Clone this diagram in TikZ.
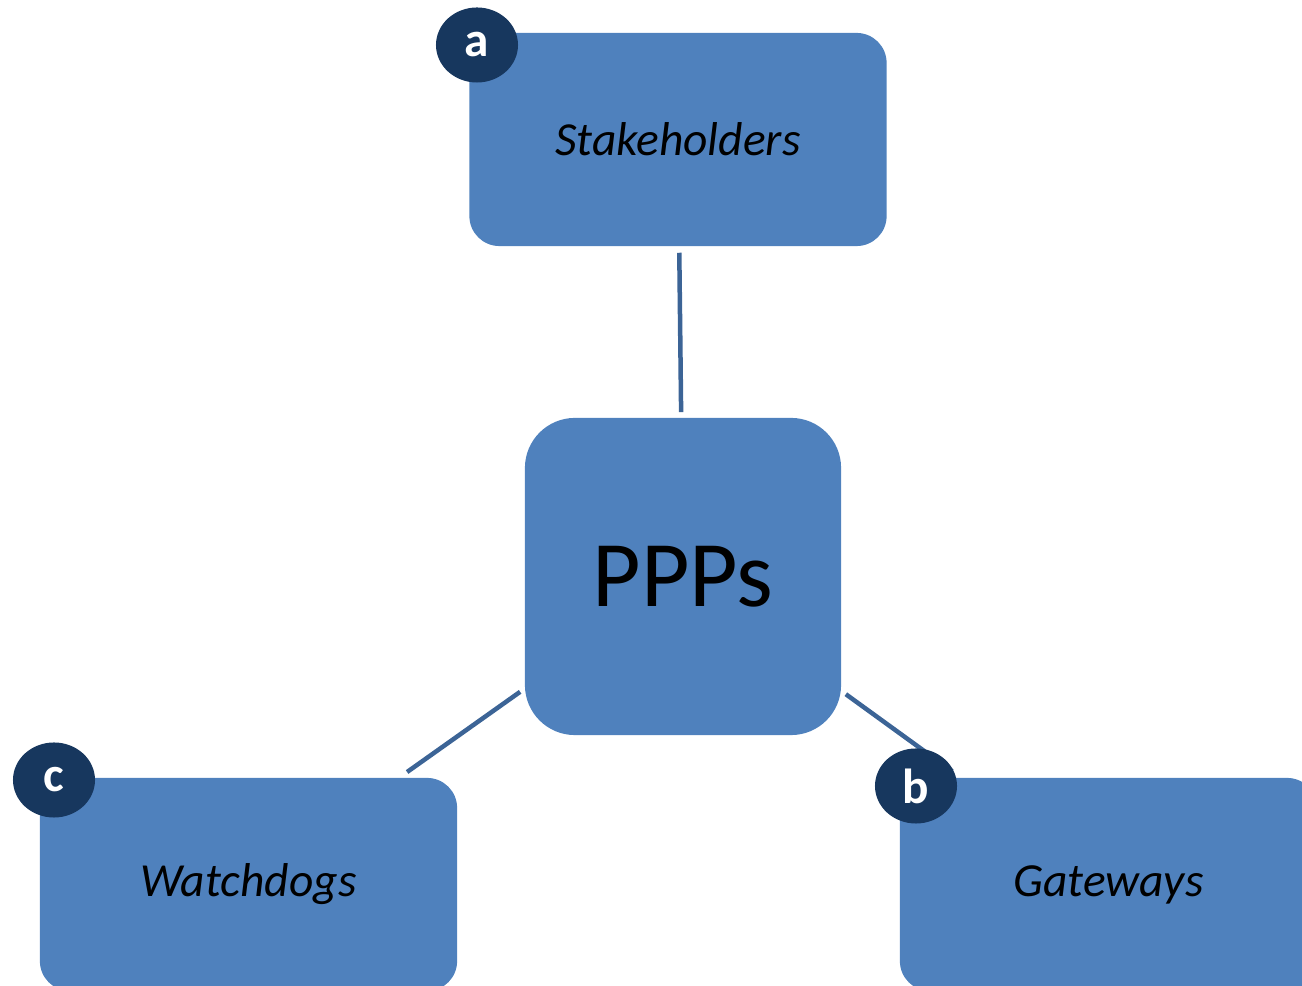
\documentclass[tikz,border=0pt]{standalone}
\usepackage{fontspec}
\setmainfont{Carlito}
\usetikzlibrary{positioning,shapes.geometric}
\definecolor{boxblue}{RGB}{79,129,189}
\definecolor{tagblue}{RGB}{23,55,94}
\definecolor{linkblue}{RGB}{60,100,150}

\begin{document}
\begin{tikzpicture}[x=0.01cm,y=-0.01cm,
	box/.style={rectangle,rounded corners=0.3cm,fill=boxblue,minimum width=4.17cm,minimum height=2.13cm,
		font=\fontsize{13.5}{16}\selectfont\itshape},
	tag/.style={ellipse,fill=tagblue,text=white,inner sep=0pt,minimum width=0.82cm,minimum height=0.75cm,
		font=\fontsize{14}{16}\selectfont\bfseries},
	link/.style={draw=linkblue,line width=0.045cm,shorten <=0.05cm}]
		\clip (0,0) rectangle (1302,986);
		\node[box,rounded corners=0.5cm,minimum width=3.16cm,minimum height=3.17cm,
			font=\fontsize{26.7}{30}\selectfont] (P) at (683,576.5) {PPPs};
		\foreach \X/\T/\x/\y/\s/\tx/\ty in 
		{Stakeholders/a/678/139.5/0.06cm/477/45, Gateways/b/1108.5/884.5/0.1cm/916/786,
			Watchdogs/c/248.5/884.5/0.09cm/54/780}
		{\node[box] (B-\T) at (\x,\y) {\X};
			\draw[link,shorten >=\s] (P) -- (B-\T);
			\node[tag] (T-\T) at (\tx,\ty) {\T};}
		\end{tikzpicture}
\end{document}
